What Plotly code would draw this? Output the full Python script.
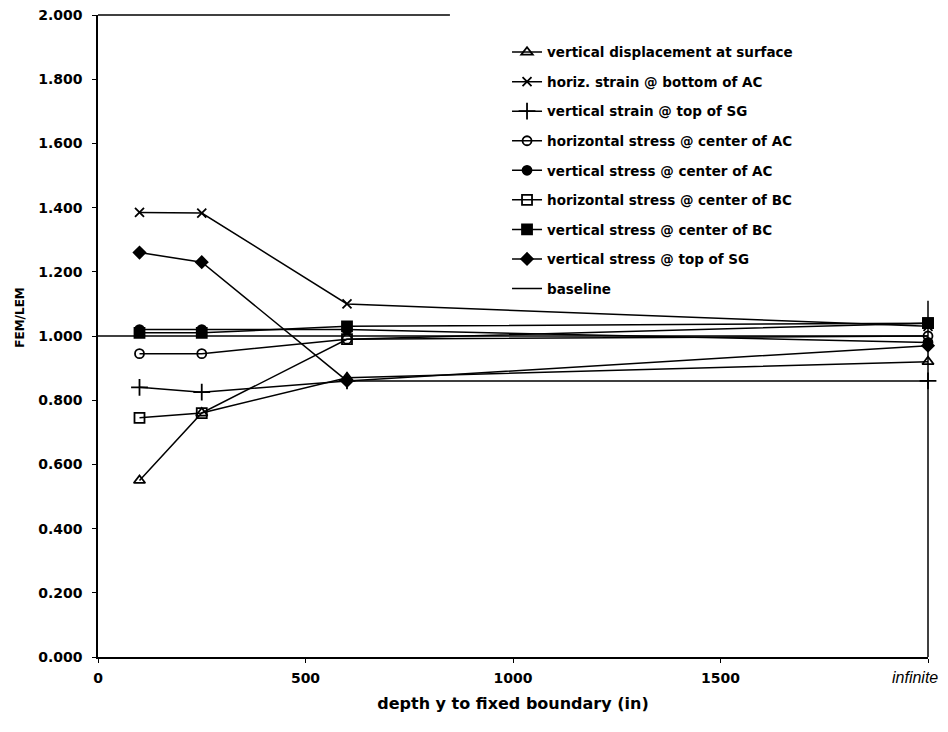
import plotly.graph_objects as go

# depth y to fixed boundary (in); "infinite" is drawn at 2000
x_depth = [100, 250, 600, 2000]

vert_disp_surface = [0.55, 0.76, 0.87, 0.92]
horiz_strain_bottom_ac = [1.385, 1.383, 1.10, 1.03]
vert_strain_top_sg = [0.84, 0.825, 0.86, 0.86]
horiz_stress_center_ac = [0.945, 0.945, 0.99, 1.00]
vert_stress_center_ac = [1.02, 1.02, 1.02, 0.98]
horiz_stress_center_bc = [0.745, 0.76, 0.99, 1.04]
vert_stress_center_bc = [1.01, 1.01, 1.03, 1.04]
vert_stress_top_sg = [1.26, 1.23, 0.86, 0.97]

baseline_x = [0, 2000]
baseline_y = [1.0, 1.0]

names = [
    "vertical displacement at surface",
    "horiz. strain @ bottom of AC",
    "vertical strain @ top of SG",
    "horizontal stress @ center of AC",
    "vertical stress @ center of AC",
    "horizontal stress @ center of BC",
    "vertical stress @ center of BC",
    "vertical stress @ top of SG",
    "baseline",
]

x_tick_vals = [0, 500, 1000, 1500, 2000]
x_tick_text = ["<b>0</b>", "<b>500</b>", "<b>1000</b>", "<b>1500</b>", ""]
infinite_label = "infinite"

series = [vert_disp_surface, horiz_strain_bottom_ac, vert_strain_top_sg,
          horiz_stress_center_ac, vert_stress_center_ac, horiz_stress_center_bc,
          vert_stress_center_bc, vert_stress_top_sg]
symbols = ["triangle-up-open", "x-thin", "cross-thin", "circle-open", "circle",
           "square-open", "square", "diamond"]
sizes = [10, 9, 12, 9, 9, 10, 10, 9]

fig = go.Figure()
for i, ys in enumerate(series):
    fig.add_trace(go.Scatter(
        x=x_depth, y=ys, mode="lines+markers", name="<b>" + names[i] + "</b>",
        legendgroup=f"g{i}",
        line=dict(color="black", width=1.5),
        marker=dict(symbol=symbols[i], size=sizes[i], color="black",
                    line=dict(color="black", width=1.8)),
        cliponaxis=False,
    ))
fig.add_trace(go.Scatter(
    x=baseline_x, y=baseline_y, mode="lines", name="<b>" + names[8] + "</b>",
    legendgroup="g8", line=dict(color="black", width=1.5), cliponaxis=False,
))

font_family = "DejaVu Sans, sans-serif"

# partial frame: top edge stops where the legend begins, right edge starts below it
fig.add_shape(type="line", xref="paper", yref="paper", x0=0, x1=0.424, y0=1, y1=1,
              line=dict(color="black", width=1.5))
fig.add_shape(type="line", xref="paper", yref="paper", x0=1, x1=1, y0=0, y1=0.555,
              line=dict(color="black", width=1.5))

fig.add_annotation(text="<b>FEM/LEM</b>", xref="paper", yref="paper",
                   x=-0.094, y=0.53, xanchor="center", yanchor="middle",
                   textangle=-90, showarrow=False,
                   font=dict(size=12, family=font_family, color="black"))

# label of the last tick (x = 2000), kept inside the page
fig.add_annotation(text="<i>" + infinite_label + "</i>", xref="paper", yref="paper",
                   x=1.014, y=-0.0327, xanchor="right", yanchor="middle",
                   showarrow=False,
                   font=dict(size=16, family="Liberation Sans, Arial, sans-serif",
                             color="black"))

fig.update_layout(
    width=940, height=724,
    paper_bgcolor="white", plot_bgcolor="white",
    margin=dict(l=90, r=20, t=7, b=75),
    font=dict(family=font_family, size=14, color="black"),
    showlegend=True,
    legend=dict(
        x=0.4928, y=0.966, xanchor="left", yanchor="top",
        bgcolor="rgba(0,0,0,0)", borderwidth=0,
        font=dict(family=font_family, size=13.5, color="black"),
        tracegroupgap=9,
    ),
    xaxis=dict(
        range=[0, 2000], tickvals=x_tick_vals, ticktext=x_tick_text,
        showgrid=False, zeroline=False, showline=True, linecolor="black",
        linewidth=1.5, mirror=False, ticks="outside", ticklen=4,
        tickcolor="black", tickfont=dict(size=14), automargin=False,
        ticklabelstandoff=3, ticklabeloverflow="allow",
        title=dict(text="<b>depth y to fixed boundary (in)</b>",
                   font=dict(size=16), standoff=13),
    ),
    yaxis=dict(
        range=[0, 2.0], dtick=0.2, tickformat=".3f",
        tickprefix="<b>", ticksuffix="</b>",
        showgrid=False, zeroline=False, showline=True, linecolor="black",
        linewidth=1.5, mirror=False, ticks="outside", ticklen=4,
        tickcolor="black", tickfont=dict(size=14), automargin=False,
        ticklabelstandoff=7, ticklabeloverflow="allow",
    ),
)

fig.write_html("out.html")
